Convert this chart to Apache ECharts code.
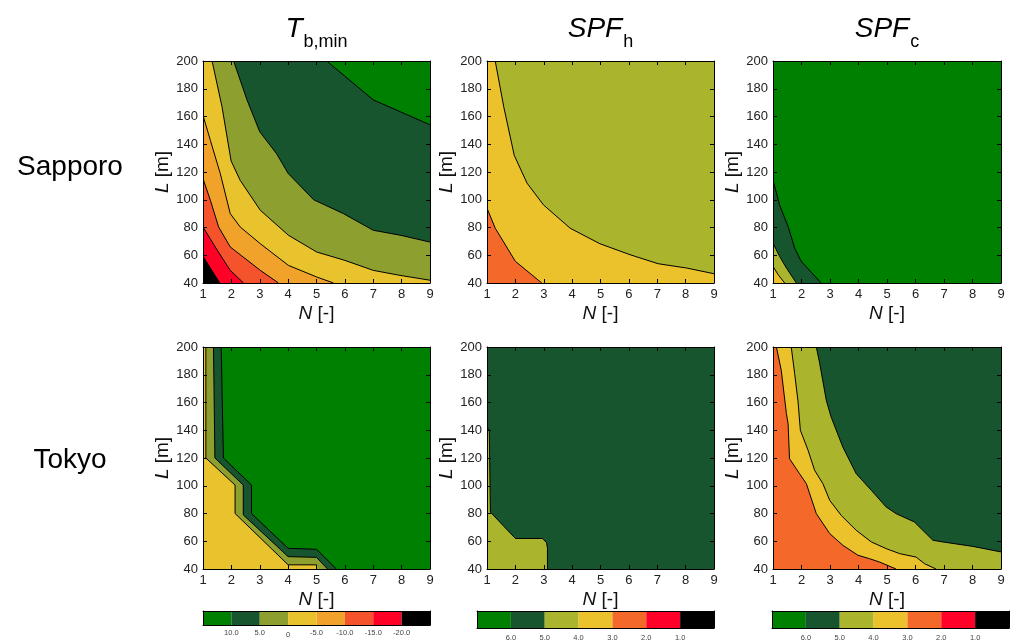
<!DOCTYPE html>
<html>
<head>
<meta charset="utf-8">
<script src="https://cdn.jsdelivr.net/npm/echarts@6/dist/echarts.min.js"></script>
<style>html,body{margin:0;padding:0;background:#fff;}#chart{width:1012px;height:642px;}</style>
</head>
<body>
<div id="chart"></div>
<script>
// ---------------- DATA ----------------
const N_MIN = 1, N_MAX = 9, N_STEP = 1;
const L_MIN = 40, L_MAX = 200, L_STEP = 20;

const columnTitles = [['T', 'b,min'], ['SPF', 'h'], ['SPF', 'c']];
const rowNames = ['Sapporo', 'Tokyo'];

// T_b,min colour scale
const tbLevels = [10, 5, 0, -5, -10, -15, -20];
const tbColors = ['#008000', '#17552f', '#8c9f2f', '#e9c32d', '#f0a22a', '#f5532b', '#ff0026', '#000000'];
const tbLabels = ['10.0', '5.0', '0', '-5.0', '-10.0', '-15.0', '-20.0'];
// SPF colour scale
const spfLevels = [6, 5, 4, 3, 2, 1];
const spfColors = ['#008000', '#17552f', '#aab42c', '#ebc12c', '#f4692a', '#ff0028', '#000000'];
const spfLabels = ['6.0', '5.0', '4.0', '3.0', '2.0', '1.0'];

// contour lines [N, L]
const sapporoTb = [
  {level: 10, line: [[5.36,200],[6.0,189],[7.0,172],[8.0,163],[9.0,154]]},
  {level: 5, line: [[2.08,200],[2.55,172],[3.0,149],[3.6,133],[4.0,119],[4.9,100],[5.95,90],[7.0,78],[7.94,74.5],[9.0,69.5]]},
  {level: 0, line: [[1.32,200],[1.67,167],[1.99,128],[2.31,114],[3.02,92.4],[4.01,74.4],[5.01,62.3],[6.0,56.3],[7.0,49.1],[7.94,45.5],[9.0,42]]},
  {level: -5, line: [[1,160.8],[1.26,142.8],[1.61,118.8],[1.96,90],[2.31,80.4],[3.02,68.3],[4.01,52.7],[5.01,44.3],[5.6,40]]},
  {level: -10, line: [[1,115.2],[1.26,99.6],[1.55,80.4],[1.96,66],[3.02,49.1],[3.66,40]]},
  {level: -15, line: [[1,80.4],[1.43,66],[1.96,49.1],[2.43,40]]},
  {level: -20, line: [[1,59.2],[1.59,40]]}
];
const sapporoSpfH = [
  {level: 4, line: [[1.29,200],[1.59,167],[1.96,132],[2.41,112],[2.99,96.3],[3.93,79.5],[4.98,68.3],[6.04,60.4],[7.03,53.9],[8.03,50.8],[9,46.7]]},
  {level: 3, line: [[1,93.9],[1.29,79.5],[2.0,55.6],[2.93,40]]}
];
const sapporoSpfC = [
  {level: 6, line: [[1,114.3],[1.23,96.3],[1.53,80.7],[1.76,65.1],[1.99,55.6],[2.69,40]]},
  {level: 5, line: [[1,68.7],[1.23,59.2],[1.47,50.8],[1.82,40]]},
  {level: 4, line: [[1,52],[1.18,46],[1.41,40]]}
];
const tokyoTb = [
  {level: 10, line: [[1.64,200],[1.72,120],[2.71,100.5],[2.71,80],[4.0,54.9],[5.0,54.2],[5.7,40]]},
  {level: 5, line: [[1.37,200],[1.42,120],[2.42,100.5],[2.42,79],[4.0,48.9],[5.0,48.4],[5.39,40]]},
  {level: 0, line: [[1.1,200],[1.1,120],[2.13,100.5],[2.13,80],[4.0,43],[5.0,43],[5.0,40]]}
];
const tokyoSpfH = [
  {level: 5, line: [[1,142],[1.08,140],[1.12,81],[2.0,62],[2.95,62],[3.1,59],[3.13,55],[3.13,40]]}
];
const tokyoSpfC = [
  {level: 5, line: [[2.52,200],[2.64,188],[2.87,161.6],[3.04,149.5],[3.45,127.9],[3.92,108.7],[4.45,96.7],[4.97,84.7],[5.32,79.9],[5.96,73.9],[6.61,60.7],[6.96,59.5],[8.01,56.3],[9,52.3]]},
  {level: 4, line: [[1.64,200],[1.76,180.8],[1.88,160.4],[1.96,140],[2.23,125.6],[2.46,111.1],[2.75,101.5],[2.99,89.5],[3.39,78.7],[3.92,67.9],[4.45,59.5],[4.97,54.7],[5.44,51.1],[6.02,48.6],[6.32,43.8],[6.72,40]]},
  {level: 3, line: [[1.12,200],[1.29,183.2],[1.47,152],[1.53,144.7],[1.58,119.5],[1.93,108.7],[2.17,101.5],[2.52,79.9],[2.99,65.5],[3.45,57.1],[3.98,49.9],[4.39,47.4],[4.74,45],[5.32,40]]}
];

// ---------------- LAYOUT ----------------
const FONT = '"Liberation Sans", Arial, Helvetica, sans-serif';
const schemes = {
  tb: {levels: tbLevels, colors: tbColors, labels: tbLabels},
  spf: {levels: spfLevels, colors: spfColors, labels: spfLabels}
};
const panels = [
  {contours: sapporoTb, scheme: 'tb'}, {contours: sapporoSpfH, scheme: 'spf'}, {contours: sapporoSpfC, scheme: 'spf'},
  {contours: tokyoTb, scheme: 'tb'}, {contours: tokyoSpfH, scheme: 'spf'}, {contours: tokyoSpfC, scheme: 'spf'}
];
const plotBoxes = [
  [203, 61, 227, 222], [487, 61, 227, 222], [773, 61, 228, 222],
  [203, 347, 227, 222], [487, 347, 227, 222], [773, 347, 228, 222]
];
const rowLabelY = [167, 460];
const cbSchemes = ['tb', 'spf', 'spf'];
const cbBoxes = [[203, 611, 227, 14], [477, 611, 237, 17], [772, 611, 238, 17]];
const cbLabelMargin = [4, 6, 6];

const grid = [], xAxis = [], yAxis = [], series = [], graphic = [];
const lineAxis = {show: true, onZero: false, lineStyle: {color: '#000', width: 1}};

panels.forEach((p, i) => {
  const [l, t, w, h] = plotBoxes[i];
  const sch = schemes[p.scheme];
  const base = sch.colors[sch.levels.indexOf(p.contours[0].level)];
  grid.push({left: l, top: t, width: w, height: h, show: true, backgroundColor: base, borderWidth: 0});
  const gi = grid.length - 1;
  const xi = xAxis.length, yi = yAxis.length;
  const tick = {show: true, inside: true, length: 4, lineStyle: {color: '#000', width: 1}};
  xAxis.push({
    gridIndex: gi, type: 'value', min: N_MIN, max: N_MAX, interval: N_STEP, position: 'bottom', z: 10,
    axisLine: lineAxis, axisTick: tick, splitLine: {show: false},
    axisLabel: {fontSize: 13, color: '#222', margin: 5, fontFamily: FONT},
    name: '{i|N} [-]', nameLocation: 'middle', nameGap: 21,
    nameTextStyle: {fontSize: 19, color: '#111', fontFamily: FONT,
      rich: {i: {fontSize: 19, fontStyle: 'italic', fontFamily: FONT, color: '#111'}}}
  });
  xAxis.push({
    gridIndex: gi, type: 'value', min: N_MIN, max: N_MAX, interval: N_STEP, position: 'top', z: 10,
    axisLine: lineAxis, axisTick: tick, splitLine: {show: false}, axisLabel: {show: false}
  });
  yAxis.push({
    gridIndex: gi, type: 'value', min: L_MIN, max: L_MAX, interval: L_STEP, position: 'left', z: 10,
    axisLine: lineAxis, axisTick: tick, splitLine: {show: false},
    axisLabel: {fontSize: 13, color: '#222', margin: 5, fontFamily: FONT},
    name: '{i|L} [m]', nameLocation: 'middle', nameGap: 28,
    nameTextStyle: {fontSize: 19, color: '#111', fontFamily: FONT,
      rich: {i: {fontSize: 19, fontStyle: 'italic', fontFamily: FONT, color: '#111'}}}
  });
  yAxis.push({
    gridIndex: gi, type: 'value', min: L_MIN, max: L_MAX, interval: L_STEP, position: 'right', z: 10,
    axisLine: lineAxis, axisTick: tick, splitLine: {show: false}, axisLabel: {show: false}
  });
  series.push({
    type: 'custom', coordinateSystem: 'cartesian2d', xAxisIndex: xi, yAxisIndex: yi,
    silent: true, z: 2, clip: true,
    data: p.contours.map(c => c.line[0]),
    renderItem: function (params, api) {
      const c = p.contours[params.dataIndex];
      const fill = sch.colors[sch.levels.indexOf(c.level) + 1];
      const pts = c.line.map(q => api.coord(q));
      const close = [[N_MAX, L_MIN], [N_MIN, L_MIN], [N_MIN, L_MAX]].map(q => api.coord(q));
      return {
        type: 'group', children: [
          {type: 'polygon', shape: {points: pts.concat(close)}, style: {fill: fill, stroke: null}},
          {type: 'polyline', shape: {points: pts}, style: {stroke: '#000', lineWidth: 1, fill: null}}
        ]
      };
    }
  });
});

cbSchemes.forEach((s, i) => {
  const [l, t, w, h] = cbBoxes[i];
  const sch = schemes[s];
  const n = sch.colors.length;
  grid.push({left: l, top: t, width: w, height: h, show: false});
  const gi = grid.length - 1;
  const xi = xAxis.length, yi = yAxis.length;
  xAxis.push({
    gridIndex: gi, type: 'value', min: 0, max: n, interval: 1, position: 'bottom', z: 10,
    axisLine: lineAxis, axisTick: {show: false}, splitLine: {show: false},
    axisLabel: {
      fontSize: 7.5, color: '#444', margin: cbLabelMargin[i], fontFamily: FONT,
      formatter: v => {
        const lab = (v >= 1 && v <= sch.labels.length) ? sch.labels[v - 1] : '';
        return lab === '0' ? '{z|0}' : lab;
      },
      rich: {z: {fontSize: 7.5, color: '#444', fontFamily: FONT, padding: [2, 0, 0, 0]}}
    }
  });
  xAxis.push({
    gridIndex: gi, type: 'value', min: 0, max: n, interval: 1, position: 'top', z: 10,
    axisLine: lineAxis, axisTick: {show: false}, splitLine: {show: false}, axisLabel: {show: false}
  });
  yAxis.push({
    gridIndex: gi, type: 'value', min: 0, max: 1, position: 'left', z: 10,
    axisLine: lineAxis, axisTick: {show: false}, splitLine: {show: false}, axisLabel: {show: false}
  });
  yAxis.push({
    gridIndex: gi, type: 'value', min: 0, max: 1, position: 'right', z: 10,
    axisLine: lineAxis, axisTick: {show: false}, splitLine: {show: false}, axisLabel: {show: false}
  });
  series.push({
    type: 'custom', coordinateSystem: 'cartesian2d', xAxisIndex: xi, yAxisIndex: yi, silent: true, z: 2,
    data: sch.colors.map((c, k) => [k + 0.5, 0.5]),
    renderItem: function (params, api) {
      const k = params.dataIndex;
      const a = api.coord([k, 1]), b = api.coord([k + 1, 0]);
      return {type: 'rect', shape: {x: a[0], y: a[1], width: b[0] - a[0], height: b[1] - a[1]},
        style: {fill: sch.colors[k]}};
    }
  });
});

// column titles and row names
columnTitles.forEach((tt, i) => {
  const [l, t, w] = plotBoxes[i];
  graphic.push({
    type: 'text', x: l + w / 2, y: 21,
    style: {
      text: '{m|' + tt[0] + '}{s|' + tt[1] + '}', align: 'center', verticalAlign: 'top',
      rich: {
        m: {fontSize: 28, fontStyle: 'italic', fontFamily: FONT, fill: '#000', verticalAlign: 'bottom', lineHeight: 30, padding: [0, 1, 8, 0]},
        s: {fontSize: 18, fontFamily: FONT, fill: '#000', verticalAlign: 'bottom', lineHeight: 20}
      }
    }
  });
});
rowNames.forEach((r, i) => {
  graphic.push({
    type: 'text', x: 70, y: rowLabelY[i],
    style: {text: r, fontSize: 28, fontFamily: FONT, fill: '#000', align: 'center', verticalAlign: 'middle'}
  });
});

const chart = echarts.init(document.getElementById('chart'), null, {renderer: 'canvas'});
chart.setOption({
  animation: false, backgroundColor: '#fff',
  grid, xAxis, yAxis, series, graphic
});
</script>
</body>
</html>
